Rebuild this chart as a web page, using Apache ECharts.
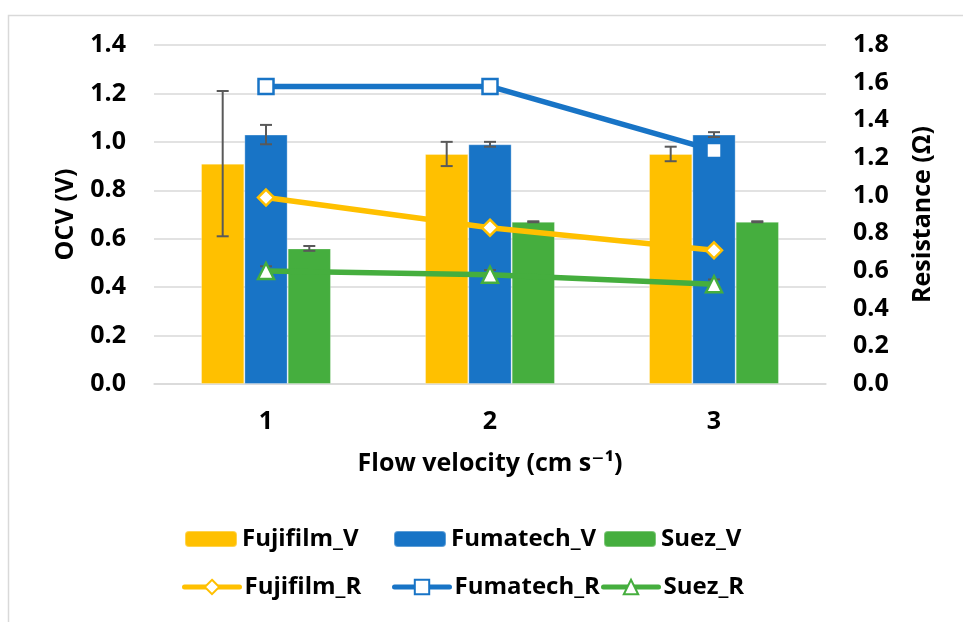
<!DOCTYPE html>
<html>
<head>
<meta charset="utf-8">
<script src="https://cdn.jsdelivr.net/npm/echarts@6/dist/echarts.min.js"></script>
<style>
html,body{margin:0;padding:0;background:#fff;}
#c{width:963px;height:622px;}
</style>
</head>
<body>
<div id="c"></div>
<script>
// ---- data ----
const categories = ['1', '2', '3'];
const fujiV = [0.91, 0.95, 0.95];
const fujiVErr = [0.30, 0.05, 0.03];
const fumaV = [1.03, 0.99, 1.03];
const fumaVErr = [0.04, 0.01, 0.01];
const suezV = [0.56, 0.67, 0.67];
const suezVErr = [0.01, 0.002, 0.002];
const fujiR = [0.99, 0.83, 0.71];
const fumaR = [1.58, 1.58, 1.24];
const suezR = [0.60, 0.58, 0.53];
const suezRErr = [0.025, 0.025, 0.025];
const leftAxis = {min: 0, max: 1.4, interval: 0.2};
const rightAxis = {min: 0, max: 1.8, interval: 0.2};

// ---- styles ----
const YEL = '#FFC000', BLU = '#1874C6', GRN = '#45AE3E';
const FONT = '"Open Sans", "DejaVu Sans", sans-serif';
const CAT_GAP = 0.42;

const chart = echarts.init(document.getElementById('c'), null, {renderer: 'canvas'});

function errSeries(vals, errs, idx, yAxisIndex, z) {
  return {
    type: 'custom',
    xAxisIndex: 0,
    yAxisIndex: yAxisIndex,
    z: z,
    silent: true,
    data: vals.map((v, i) => [i, v, errs[i]]),
    encode: {x: 0, y: 1},
    renderItem: function (params, api) {
      const x = api.value(0), v = api.value(1), e = api.value(2);
      const band = api.size([1, 0])[0];
      const bw = band * (1 - CAT_GAP) / 3;
      const off = idx === null ? 0 : (idx - 1) * bw;
      const hi = api.coord([x, v + e]);
      const lo = api.coord([x, v - e]);
      const cx = hi[0] + off;
      const cap = 6;
      const st = {stroke: '#595959', lineWidth: 2, fill: null};
      return {
        type: 'group',
        children: [
          {type: 'line', shape: {x1: cx, y1: hi[1], x2: cx, y2: lo[1]}, style: st},
          {type: 'line', shape: {x1: cx - cap, y1: hi[1], x2: cx + cap, y2: hi[1]}, style: st},
          {type: 'line', shape: {x1: cx - cap, y1: lo[1], x2: cx + cap, y2: lo[1]}, style: st}
        ]
      };
    }
  };
}

function barSeries(name, data, color) {
  return {
    name: name, type: 'bar', yAxisIndex: 0, data: data, z: 2,
    barGap: 0, barCategoryGap: (CAT_GAP * 100) + '%',
    itemStyle: {color: color, borderColor: 'rgba(255,255,255,0.3)', borderWidth: 1}
  };
}
function lineSeries(name, data, color, symbol, size) {
  return {
    name: name, type: 'line', yAxisIndex: 1, data: data, z: 5,
    symbol: symbol, symbolSize: size, showSymbol: true,
    lineStyle: {color: color, width: 5.5, cap: 'round'},
    itemStyle: {color: '#fff', borderColor: color, borderWidth: 2.5}
  };
}

const legTxt = {fontFamily: FONT, fontWeight: 'bold', fontSize: 24, color: '#000'};
function leg(name, left, top, w, h, isLine) {
  const l = {
    data: [name], left: left, top: top, itemWidth: w, itemHeight: h, itemGap: 0,
    textStyle: legTxt, padding: 0, selectedMode: false
  };
  if (isLine) {
    l.lineStyle = {width: 5, cap: 'round'};
    l.itemStyle = {borderWidth: 2};
  }
  return l;
}

const axisLabelStyle = {fontFamily: FONT, fontWeight: 'bold', fontSize: 25, color: '#000'};
const axisNameStyle = {fontFamily: FONT, fontWeight: 'bold', fontSize: 25, color: '#000'};

const option = {
  animation: false,
  backgroundColor: '#fff',
  graphic: [{
    type: 'rect', left: 6, top: 13, silent: true,
    shape: {x: 0, y: 0, width: 980, height: 640},
    style: {fill: null, stroke: '#d9d9d9', lineWidth: 1.5}
  }],
  grid: {left: 154, right: 137, top: 45, bottom: 238, containLabel: false},
  legend: [
    leg('Fujifilm_V', 184, 527, 52, 16, false),
    leg('Fumatech_V', 393, 527, 52, 16, false),
    leg('Suez_V', 603, 527, 52, 16, false),
    leg('Fujifilm_R', 182, 575, 55, 18, true),
    leg('Fumatech_R', 392, 575, 55, 18, true),
    leg('Suez_R', 601, 575, 55, 18, true)
  ],
  xAxis: {
    type: 'category', data: categories,
    axisLine: {lineStyle: {color: '#d9d9d9', width: 1.5}},
    axisTick: {show: false},
    axisLabel: Object.assign({margin: 25}, axisLabelStyle),
    name: 'Flow velocity (cm s\u207B\u00B9)',
    nameLocation: 'middle', nameGap: 67,
    nameTextStyle: axisNameStyle
  },
  yAxis: [{
    type: 'value', min: leftAxis.min, max: leftAxis.max, interval: leftAxis.interval,
    axisLine: {show: false}, axisTick: {show: false},
    splitLine: {lineStyle: {color: '#d9d9d9', width: 1.5}},
    axisLabel: Object.assign({margin: 28, formatter: v => v.toFixed(1)}, axisLabelStyle),
    name: 'OCV (V)', nameLocation: 'middle', nameGap: 76, nameRotate: 90,
    nameTextStyle: axisNameStyle
  }, {
    type: 'value', min: rightAxis.min, max: rightAxis.max, interval: rightAxis.interval,
    position: 'right',
    axisLine: {show: false}, axisTick: {show: false},
    splitLine: {show: false},
    axisLabel: Object.assign({margin: 27, formatter: v => v.toFixed(1)}, axisLabelStyle),
    name: 'Resistance (\u03A9)', nameLocation: 'middle', nameGap: 84, nameRotate: 90,
    nameTextStyle: axisNameStyle
  }],
  series: [
    barSeries('Fujifilm_V', fujiV, YEL),
    barSeries('Fumatech_V', fumaV, BLU),
    barSeries('Suez_V', suezV, GRN),
    errSeries(fujiV, fujiVErr, 0, 0, 3),
    errSeries(fumaV, fumaVErr, 1, 0, 3),
    errSeries(suezV, suezVErr, 2, 0, 3),
    errSeries(suezR, suezRErr, null, 1, 4),
    lineSeries('Fujifilm_R', fujiR, YEL, 'diamond', 16),
    lineSeries('Fumatech_R', fumaR, BLU, 'rect', 15),
    lineSeries('Suez_R', suezR, GRN, 'triangle', 16)
  ]
};
chart.setOption(option);
</script>
</body>
</html>
